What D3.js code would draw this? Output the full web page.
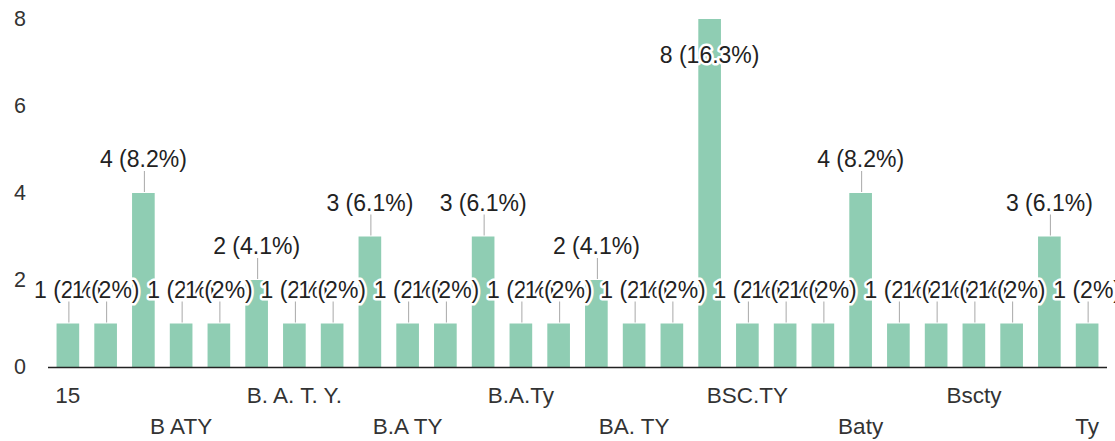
<!DOCTYPE html>
<html>
<head>
<meta charset="utf-8">
<script src="https://cdn.jsdelivr.net/npm/d3@7"></script>
<style>
  html, body { margin: 0; padding: 0; background: #fff; }
  svg { display: block; font-family: "Liberation Sans", Arial, sans-serif; }
</style>
</head>
<body>
<svg id="chart" width="1115" height="441"></svg>
<script>
// Categories (only every third label is legible / displayed in the reference)
const categories = [
  "15", "B A T Y", "B A TY", "B ATY", "B. A. T Y", "B. A. TY", "B. A. T. Y.",
  "B. AT. Y", "B.A T.Y", "B.A TY", "B.A.T.Y", "B.A.TY", "B.A.Ty", "B.ATY",
  "BA TY", "BA. TY", "BATY", "BS.C TY", "BSC.TY", "BSCTY", "Ba.Ty",
  "Baty", "Bs.c.ty", "Bsc.ty", "Bscty", "T.Y", "TY", "Ty"
];
const counts = [1, 1, 4, 1, 1, 2, 1, 1, 3, 1, 1, 3, 1, 1, 2, 1, 1, 8, 1, 1, 1, 4, 1, 1, 1, 1, 3, 1];
const yTicks = [0, 2, 4, 6, 8];

const total = d3.sum(counts);
const data = categories.map((c, i) => ({ cat: c, v: counts[i], i }));

const svg = d3.select("#chart");
const x = d3.scaleBand().domain(categories).range([49, 1106]).paddingInner(0.4).paddingOuter(0.2);
const y = d3.scaleLinear().domain([0, 8]).range([367, 19]);

const barColor = "#8fcdb3";

// bars
svg.append("g").selectAll("rect").data(data).join("rect")
  .attr("x", d => x(d.cat))
  .attr("y", d => y(d.v))
  .attr("width", x.bandwidth())
  .attr("height", d => y(0) - y(d.v))
  .attr("fill", barColor);

// baseline
svg.append("line")
  .attr("x1", 48).attr("x2", 1107)
  .attr("y1", y(0) + 0.5).attr("y2", y(0) + 0.5)
  .attr("stroke", "#222").attr("stroke-width", 1.5);

// y axis
const yAxis = svg.append("g").attr("transform", "translate(26,0)")
  .call(d3.axisLeft(y).tickValues(yTicks).tickSize(0).tickPadding(0));
yAxis.select(".domain").remove();
yAxis.selectAll("text").attr("font-size", 21.5).attr("fill", "#333")
  .attr("font-family", "'Liberation Sans', Arial, sans-serif");

// x axis (every third label, alternating rows)
const xAxis = svg.append("g").attr("transform", `translate(0,${y(0)})`)
  .call(d3.axisBottom(x).tickSize(0).tickPadding(0)
    .tickFormat((d, i) => i % 3 === 0 ? d : ""));
xAxis.select(".domain").remove();
xAxis.selectAll("text")
  .attr("font-size", 22.5).attr("fill", "#333")
  .attr("font-family", "'Liberation Sans', Arial, sans-serif")
  .attr("dy", null)
  .attr("y", (d, i) => (i / 3) % 2 === 0 ? 36 : 67);

// value labels
const lab = svg.append("g");
data.forEach(d => {
  const cx = x(d.cat) + x.bandwidth() / 2;
  const top = y(d.v);
  let ly = top - 34;
  let leader = true;
  if (ly < 40) { ly = top + 36; leader = false; }
  if (leader) {
    lab.append("line")
      .attr("x1", cx + 1).attr("x2", cx + 1)
      .attr("y1", ly + 12).attr("y2", top - 1)
      .attr("stroke", "#a8a8a8").attr("stroke-width", 1);
  }
  const pct = d3.format(".1f")(d.v / total * 100).replace(/\.0$/, "");
  lab.append("text")
    .attr("x", cx).attr("y", ly)
    .attr("dy", "0.36em")
    .attr("text-anchor", "middle")
    .attr("font-size", 23)
    .attr("fill", "#222")
    .attr("stroke", "#fff").attr("stroke-width", 5)
    .attr("stroke-linejoin", "round")
    .attr("paint-order", "stroke")
    .text(`${d.v} (${pct}%)`);
});
</script>
</body>
</html>
